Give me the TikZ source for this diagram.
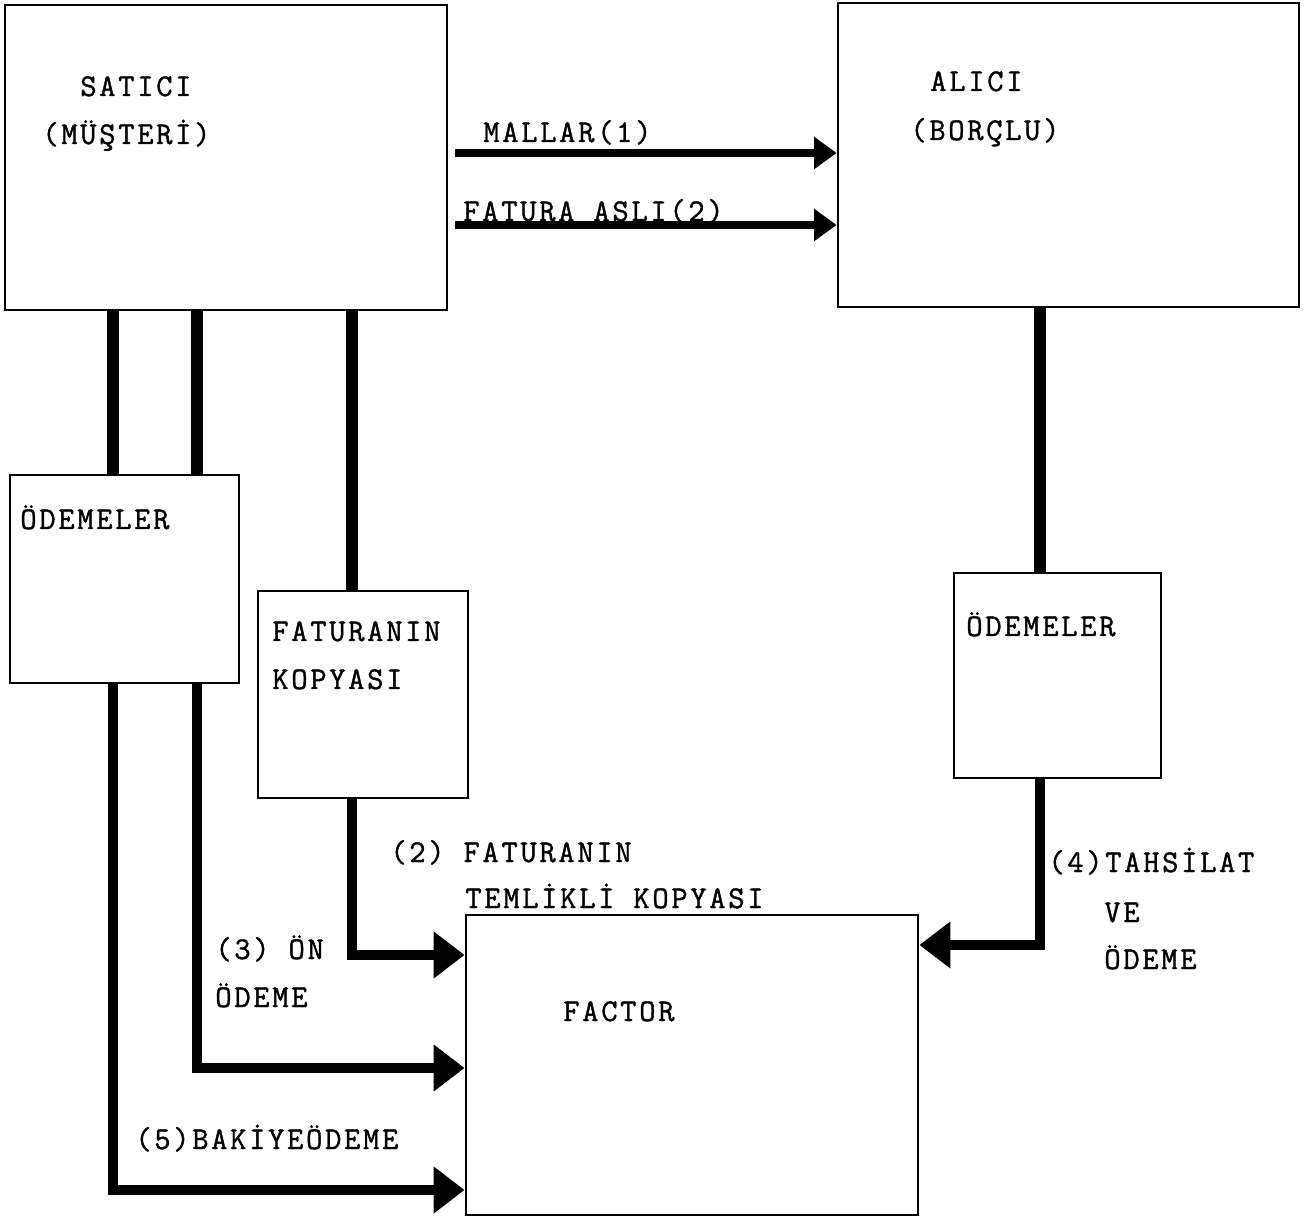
\documentclass[tikz,border=0pt]{standalone}
\usepackage{fontspec}
\setmonofont{Latin Modern Mono}[LetterSpace=8.5, FakeBold=1.2]
\usetikzlibrary{arrows.meta, fit}
\tikzset{
  box/.style={draw, line width=1.6pt, inner sep=0pt},
  lbl/.style={anchor=base west, inner sep=0pt, font=\ttfamily\fontsize{18}{27}\selectfont},
  link/.style={line width=6.8pt},
  flow/.style={line width=6pt, line join=miter, -{Triangle[length=0.62cm, width=0.9cm]}},
  topflow/.style={line width=5pt, shorten <=4pt, -{Triangle[length=0.45cm, width=0.62cm]}},
}
\begin{document}
\begin{tikzpicture}[x=0.02cm, y=-0.02cm]
  \useasboundingbox (0,0) rectangle (1309,1219);
  % boxes
  \node[box, fit={(5,5) (447,310)}] (sat) {};
  \node[box, fit={(838,3) (1299,307)}] (ali) {};
  \node[box, fit={(10,475) (239,683)}] (odl) {};
  \node[box, fit={(258,591) (468,798)}] (kop) {};
  \node[box, fit={(954,573) (1161,778)}] (odr) {};
  \node[box, fit={(466,915) (918,1215)}] (fac) {};
  % box texts
  \node[lbl] (satA) at (80,96) {SATICI};
  \node[lbl] (satB) at (42,144) {(MÜŞTERİ)};
  \node[lbl] (aliA) at (930,91) {ALICI};
  \node[lbl] (aliB) at (910,140) {(BORÇLU)};
  \node[lbl] (odlA) at (20,529) {ÖDEMELER};
  \node[lbl] (kopA) at (272,641) {FATURANIN};
  \node[lbl] (kopB) at (272,689) {KOPYASI};
  \node[lbl] (odrA) at (966,636) {ÖDEMELER};
  \node[lbl] (facA) at (563,1021) {FACTOR};
  % where the lines run
  \coordinate (xa) at (113,0);
  \coordinate (xb) at (197,0);
  \coordinate (xc) at (352,0);
  \coordinate (xd) at (1040,0);
  \coordinate (ya) at (0,1190);
  \coordinate (yb) at (0,1068);
  \coordinate (yc) at (0,955);
  \coordinate (yd) at (0,945);
  \coordinate (ye) at (0,153);
  \coordinate (yf) at (0,225);
  % seller to buyer
  \draw[topflow] (sat.east |- ye) -- (ali.west |- ye);
  \draw[topflow] (sat.east |- yf) -- (ali.west |- yf);
  \node[lbl] (malA) at (483,142) {MALLAR(1)};
  \node[lbl] (fatA) at (463,221) {FATURA ASLI(2)};
  % down links
  \draw[link] (sat.south -| xa) -- (odl.north -| xa);
  \draw[link] (sat.south -| xb) -- (odl.north -| xb);
  \draw[link] (sat.south -| xc) -- (kop.north -| xc);
  \draw[link] (ali.south -| xd) -- (odr.north -| xd);
  % into the factor
  \draw[flow] (odl.south -| xa) |- (fac.west |- ya);
  \draw[flow] (odl.south -| xb) |- (fac.west |- yb);
  \draw[flow] (kop.south -| xc) |- (fac.west |- yc);
  \draw[flow] (odr.south -| xd) |- (fac.east |- yd);
  % flow labels
  \node[lbl] (temA) at (390,862) {(2) FATURANIN};
  \node[lbl] (temB) at (465,908) {TEMLİKLİ KOPYASI};
  \node[lbl] (onA) at (215,959) {(3) ÖN};
  \node[lbl] (onB) at (215,1007) {ÖDEME};
  \node[lbl] (tahA) at (1048,872) {(4)TAHSİLAT};
  \node[lbl] (tahB) at (1104,922) {VE};
  \node[lbl] (tahC) at (1104,969) {ÖDEME};
  \node[lbl] (bakA) at (135,1149) {(5)BAKİYEÖDEME};
\end{tikzpicture}
\end{document}
